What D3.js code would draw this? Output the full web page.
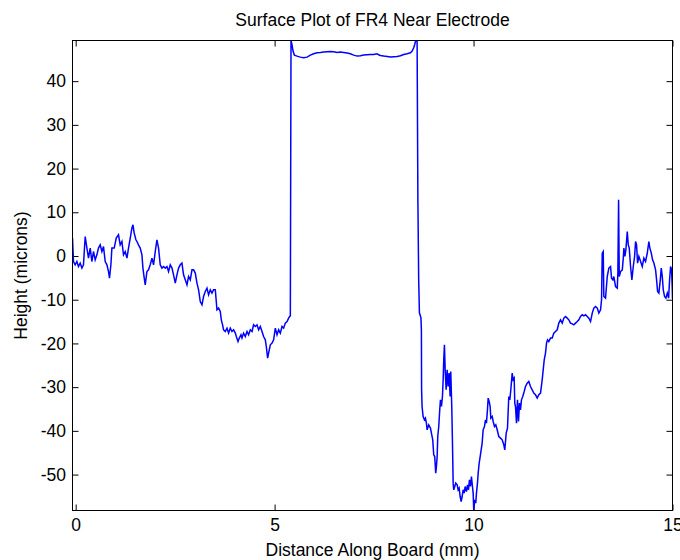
<!DOCTYPE html>
<html>
<head>
<meta charset="utf-8">
<script src="https://cdn.jsdelivr.net/npm/d3@7"></script>
<style>
  html, body { margin: 0; padding: 0; background: #fff; }
  svg { display: block; }
  text { font-family: "Liberation Sans", Arial, sans-serif; fill: #000; }
</style>
</head>
<body>
<svg id="chart" width="680" height="560"></svg>
<script>
const chartTitle = "Surface Plot of FR4 Near Electrode";
const xLabel = "Distance Along Board (mm)";
const yLabel = "Height (microns)";
const xTicks = [0, 5, 10, 15];
const yTicks = [-50, -40, -30, -20, -10, 0, 10, 20, 30, 40];
const xDomain = [-0.08, 15];
const yDomain = [-58.22, 49.3];

// Distance along board (mm)
const distance = [
-0.08,-0.055,-0.013,0.030,0.070,0.113,0.156,0.196,0.239,0.282,0.322,0.365,0.407,0.448,0.490,0.533,0.573,0.616,0.659,0.699,
0.742,0.785,0.825,0.850,0.885,0.910,0.968,1.019,1.076,1.119,1.162,1.202,1.245,1.288,1.328,1.371,1.413,1.439,1.471,1.514,
1.539,1.579,1.622,1.665,1.690,1.723,1.748,1.791,1.831,1.874,1.917,1.957,2.000,2.042,2.083,2.125,2.168,2.208,2.251,2.294,
2.334,2.377,2.420,2.460,2.503,2.545,2.586,2.628,2.671,2.711,
2.754,2.797,2.837,2.880,2.923,2.963,3.006,3.048,3.089,3.131,3.174,3.214,3.257,3.300,3.340,3.383,3.426,3.466,3.509,3.551,
3.592,3.634,3.660,3.692,3.717,3.760,3.803,3.843,3.886,3.929,3.969,4.012,4.037,4.080,4.112,4.155,4.180,4.220,4.263,4.306,
4.346,4.389,4.432,4.472,4.515,4.557,4.598,4.640,4.683,4.723,4.766,4.791,4.824,4.849,4.892,4.935,4.975,5.018,5.060,5.101,
5.143,5.186,5.226,5.269,5.312,5.352,5.377,5.395,
5.412,5.438,5.463,5.496,5.563,5.646,5.729,5.815,5.898,5.981,6.067,6.150,6.233,6.318,6.401,6.484,6.570,6.653,6.736,6.821,
6.904,6.987,7.073,7.156,7.239,7.324,7.407,7.490,7.576,7.616,7.659,7.742,7.827,7.910,7.993,8.079,8.162,8.245,8.330,8.413,
8.456,8.496,8.521,8.546,
8.581,8.601,8.621,8.639,8.677,8.689,8.694,8.706,
8.732,8.765,8.790,8.815,8.833,8.873,8.916,8.941,8.974,8.999,9.024,9.049,9.067,9.085,9.100,9.125,9.150,9.168,9.193,9.218,
9.236,9.251,9.268,9.286,9.311,9.336,9.361,9.386,9.411,9.427,9.452,9.470,9.487,9.502,9.527,9.552,9.588,9.613,9.638,9.663,
9.688,9.713,9.738,9.764,9.789,9.822,9.847,9.872,9.897,9.922,9.947,9.972,9.990,10.005,10.030,10.055,10.073,10.098,10.116,10.141,
10.166,10.191,10.216,10.241,10.274,10.299,10.324,10.349,10.367,10.392,10.417,10.433,10.468,10.493,10.526,10.559,10.594,10.634,10.677,10.719,
10.760,10.785,10.820,10.853,10.885,10.911,10.936,10.971,10.996,11.021,11.036,11.054,11.079,11.104,11.129,11.154,11.179,11.204,11.237,11.273,
11.305,11.348,11.388,11.431,11.474,11.514,11.557,11.600,11.640,11.683,11.725,11.750,11.776,11.808,11.834,11.859,11.891,11.934,11.977,12.017,
12.060,12.103,12.143,12.186,12.229,12.269,12.312,12.354,12.395,12.437,12.480,12.520,12.563,12.606,12.646,12.689,12.732,12.772,12.815,12.857,
12.898,12.940,12.983,13.023,13.066,13.109,13.149,13.192,13.217,13.234,13.259,13.274,13.317,13.360,13.400,13.443,13.468,13.501,13.526,13.569,
13.612,13.627,13.645,13.662,13.695,13.738,13.763,13.778,13.803,13.828,13.863,13.888,13.913,13.946,13.979,14.014,14.047,14.072,14.097,14.122,
14.155,14.198,14.240,14.281,14.323,14.366,14.406,14.431,14.467,14.499,14.532,14.575,14.600,14.625,14.658,14.693,14.718,14.743,14.768,14.801,
14.834,14.869,14.902,14.927,14.952,14.977,14.995,15.0
];

// Surface height (microns)
const height = [
4.1,-1.26,-2.03,-1.26,-2.40,-1.62,-2.77,-2.01,4.46,1.81,-0.48,1.81,-1.26,1.03,-0.87,0.27,1.81,2.56,1.03,2.17,
-1.26,-2.01,-3.55,-5.06,-2.01,1.81,1.81,4.10,4.85,2.56,3.32,0.27,1.03,-0.48,1.81,4.10,6.38,7.14,5.24,3.71,
3.32,2.56,1.81,0.27,-2.77,-5.06,-6.59,-3.55,-3.16,-2.01,-0.48,-2.01,1.03,3.71,1.81,-2.01,-2.77,-2.40,-2.77,-2.40,
-3.55,-2.01,-2.77,-4.30,-6.20,-4.30,-2.77,-2.01,-1.62,-4.30,
-5.45,-6.59,-4.69,-5.45,-3.16,-3.16,-3.91,-6.20,-7.73,-10.41,-11.16,-9.27,-8.12,-7.34,-8.88,-7.73,-8.49,-7.73,-7.73,-12.31,
-11.92,-12.70,-14.60,-15.74,-16.88,-17.27,-16.50,-17.64,-16.50,-17.27,-16.88,-17.64,-18.42,-19.56,-18.78,-18.03,-18.78,-17.64,-18.42,-17.27,
-18.03,-16.88,-17.27,-15.74,-16.13,-15.74,-16.88,-16.13,-17.27,-18.42,-19.17,-20.70,-23.36,-22.21,-20.32,-19.93,-19.17,-16.50,-18.03,-16.88,
-17.64,-16.13,-16.50,-15.35,-14.99,-14.21,-13.84,-13.70,
49.3,48.3,46.88,45.96,45.73,45.50,45.34,45.50,45.96,46.26,46.49,46.56,46.65,46.72,46.79,46.72,46.56,46.65,46.56,46.42,
46.26,45.96,45.73,45.80,45.96,46.03,46.10,46.10,46.26,46.03,45.87,45.73,45.64,45.50,45.57,45.64,45.80,46.10,46.26,46.49,
46.88,47.63,48.39,49.3,
49.2,12.5,-5.45,-13.0,-14.1,-16.9,-30.6,-34.43,
-36.72,-37.47,-37.09,-38.23,-39.76,-38.62,-39.37,-40.52,-42.05,-45.48,-45.87,-49.67,-48.15,-45.87,-41.30,-39.01,-35.19,-32.90,-34.43,-32.14,
-28.32,-23.75,-20.32,-26.04,-30.61,-26.04,-29.86,-26.79,-32.14,-26.42,-34.43,-42.80,-51.96,-53.49,-52.73,-51.96,-52.35,-53.49,-53.10,-55.02,
-56.17,-55.02,-53.49,-54.24,-52.73,-53.88,-52.35,-53.49,-51.20,-52.73,-50.44,-52.73,-54.24,-58.22,-55.78,-56.53,-54.24,-51.96,-49.67,-47.38,
-45.87,-44.34,-42.80,-39.76,-39.01,-37.47,-38.23,-35.19,-32.51,-33.29,-34.43,-37.09,-36.72,-37.86,-39.01,-38.62,-39.76,-41.30,-41.66,-42.05,
-43.19,-44.34,-40.52,-39.37,-32.14,-32.90,-30.61,-26.79,-28.32,-27.93,-33.65,-34.43,-38.23,-32.90,-37.86,-33.65,-35.19,-32.90,-32.14,-31.00,
-29.86,-29.08,-28.71,-29.86,-30.61,-31.37,-31.75,-32.51,-31.75,-31.37,-28.32,-26.04,-23.75,-22.21,-19.93,-19.17,-19.56,-18.78,-18.78,-17.64,
-17.27,-16.88,-15.35,-14.60,-15.35,-14.21,-13.84,-14.21,-14.60,-15.35,-15.51,-15.74,-15.35,-14.99,-14.60,-13.84,-13.45,-13.68,-13.45,-13.84,
-14.21,-14.99,-13.06,-11.92,-11.55,-11.92,-13.06,-12.3,-10.02,0.66,1.03,-9.27,-9.63,-4.69,-2.77,-2.40,-5.06,-5.45,-4.69,-6.98,
-7.34,-3.91,12.86,-4.69,-3.55,-3.16,-0.48,1.81,-0.11,1.42,5.61,2.56,1.81,-2.40,-5.45,-2.40,-0.11,3.32,2.56,-1.62,
-0.11,-1.26,-2.40,-0.48,-1.26,0.66,3.32,1.81,0.66,-0.87,-1.62,-3.16,-5.45,-8.12,-8.49,-5.45,-2.77,-4.69,-7.73,-9.27,
-9.63,-8.49,-9.63,-5.45,-2.40,-3.16,-7.73,-9.8
];

const W = 680, H = 560;
const plot = { left: 72.5, top: 40.5, right: 672.5, bottom: 510.5 };
const fontSize = 17.5;

const svg = d3.select("#chart");

const x = d3.scaleLinear().domain(xDomain).range([plot.left, plot.right]);
const y = d3.scaleLinear().domain(yDomain).range([plot.bottom, plot.top]);

svg.append("defs").append("clipPath").attr("id", "clip")
  .append("rect")
  .attr("x", plot.left).attr("y", plot.top - 0.5)
  .attr("width", plot.right - plot.left).attr("height", plot.bottom - plot.top + 1);

const points = distance.map((d, i) => [d, height[i]]);

// plain hyphen-minus like the original
const fmt = d => String(d);

// Axes (ticks inward, MATLAB style)
const tickLen = 6;
const styleAxis = g => {
  g.select(".domain").remove();
  g.selectAll(".tick line").attr("stroke", "#000").attr("stroke-width", 1);
  g.selectAll(".tick text")
    .style("font-family", '"Liberation Sans", Arial, sans-serif')
    .style("font-size", fontSize + "px")
    .attr("fill", "#000");
};

svg.append("g")
  .attr("transform", `translate(0,${plot.bottom})`)
  .call(d3.axisBottom(x).tickValues(xTicks).tickFormat(fmt)
        .tickSizeInner(-tickLen).tickSizeOuter(0).tickPadding(8.5))
  .call(styleAxis);

svg.append("g")
  .attr("transform", `translate(0,${plot.top})`)
  .call(d3.axisTop(x).tickValues(xTicks).tickFormat("")
        .tickSizeInner(-tickLen).tickSizeOuter(0))
  .call(styleAxis);

svg.append("g")
  .attr("transform", `translate(${plot.left},0)`)
  .call(d3.axisLeft(y).tickValues(yTicks).tickFormat(fmt)
        .tickSizeInner(-tickLen).tickSizeOuter(0).tickPadding(6.5))
  .call(styleAxis);

svg.append("g")
  .attr("transform", `translate(${plot.right},0)`)
  .call(d3.axisRight(y).tickValues(yTicks).tickFormat("")
        .tickSizeInner(-tickLen).tickSizeOuter(0))
  .call(styleAxis);

// Data line
svg.append("path")
  .datum(points)
  .attr("clip-path", "url(#clip)")
  .attr("fill", "none")
  .attr("stroke", "#0000ff")
  .attr("stroke-width", 1.5)
  .attr("stroke-linejoin", "miter")
  .attr("d", d3.line().x(d => x(d[0])).y(d => y(d[1])));

// Frame
svg.append("rect")
  .attr("x", plot.left).attr("y", plot.top)
  .attr("width", plot.right - plot.left).attr("height", plot.bottom - plot.top)
  .attr("fill", "none").attr("stroke", "#000").attr("stroke-width", 1);

// Title and labels
svg.append("text")
  .attr("x", (plot.left + plot.right) / 2).attr("y", 26)
  .attr("text-anchor", "middle")
  .style("font-size", fontSize + "px")
  .text(chartTitle);

svg.append("text")
  .attr("x", (plot.left + plot.right) / 2).attr("y", 556)
  .attr("text-anchor", "middle")
  .style("font-size", fontSize + "px")
  .text(xLabel);

svg.append("text")
  .attr("transform", `translate(27,${(plot.top + plot.bottom) / 2}) rotate(-90)`)
  .attr("text-anchor", "middle")
  .style("font-size", fontSize + "px")
  .text(yLabel);
</script>
</body>
</html>
